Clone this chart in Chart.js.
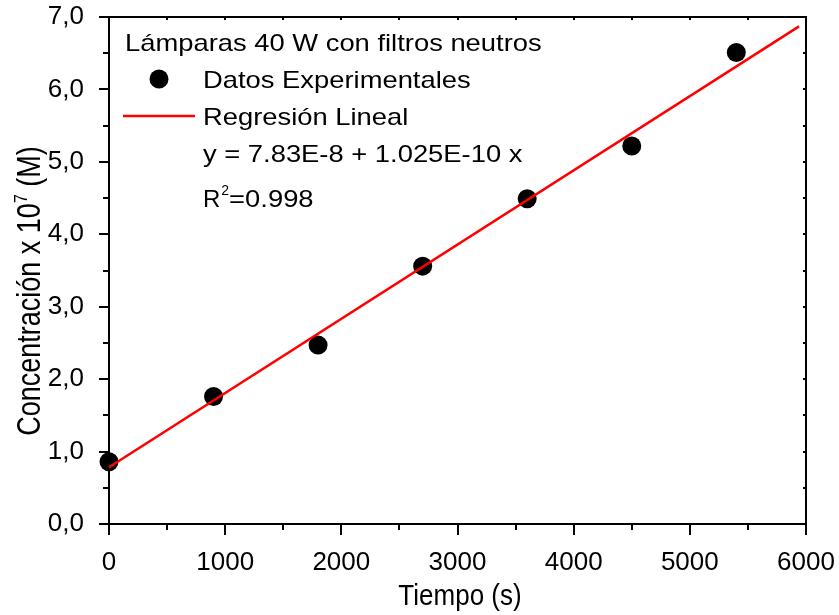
<!DOCTYPE html>
<html>
<head>
<meta charset="utf-8">
<title>Concentración vs Tiempo</title>
<script src="https://cdn.jsdelivr.net/npm/chart.js@4"></script>
<style>
  html, body { margin: 0; padding: 0; background: #fff; }
  canvas { display: block; }
</style>
</head>
<body>
<canvas id="chart" width="839" height="615"></canvas>
<script>
// values (concentration in units of 1e-7 M)
const timeValues = [0, 900, 1800, 2700, 3600, 4500, 5400];
const concentrationValues = [0.86, 1.76, 2.47, 3.56, 4.49, 5.22, 6.51];
const fitTime = [0, 5940];
const fitConcentration = [0.783, 6.87];
const xTicks = [0, 1000, 2000, 3000, 4000, 5000, 6000];
const yTicks = [0, 1, 2, 3, 4, 5, 6, 7];

const legendTitle = 'Lámparas 40 W con filtros neutros';
const pointsLabel = 'Datos Experimentales';
const fitLabel = 'Regresión Lineal';
const equationText = 'y = 7.83E-8 + 1.025E-10 x';
const rSquaredText = '=0.998';

const FONT = '"Liberation Sans", Arial, sans-serif';

function drawText(ctx, str, x, y, size, sx, sy) {
  ctx.save();
  ctx.translate(x, y);
  ctx.scale(sx || 1, sy || 1);
  ctx.font = `${size}px ${FONT}`;
  ctx.fillText(str, 0, 0);
  const w = ctx.measureText(str).width * (sx || 1);
  ctx.restore();
  return w;
}

// labels must not push the plot area around
function noLabelPadding(scale) {
  scale.paddingTop = 0;
  scale.paddingBottom = 0;
  scale.paddingLeft = 0;
  scale.paddingRight = 0;
}

const framePlugin = {
  id: 'frame',
  beforeDatasetsDraw(chart) {
    const { ctx, chartArea } = chart;
    const x = chart.scales.x;
    const y = chart.scales.y;
    ctx.save();
    ctx.strokeStyle = '#000';
    ctx.lineWidth = 2;
    ctx.strokeRect(chartArea.left, chartArea.top, chartArea.right - chartArea.left, chartArea.bottom - chartArea.top);

    ctx.beginPath();
    for (let v = x.min; v <= x.max; v += 500) {
      const px = Math.round(x.getPixelForValue(v));
      const len = v % 1000 === 0 ? 11 : 6;
      ctx.moveTo(px, chartArea.bottom);
      ctx.lineTo(px, chartArea.bottom + len);
      ctx.moveTo(px, chartArea.top);
      ctx.lineTo(px, chartArea.top + 3);
    }
    for (let v = y.min; v <= y.max; v += 0.5) {
      const py = Math.round(y.getPixelForValue(v));
      const len = v % 1 === 0 ? 10 : 6;
      ctx.moveTo(chartArea.left, py);
      ctx.lineTo(chartArea.left - len, py);
      ctx.moveTo(chartArea.right, py);
      ctx.lineTo(chartArea.right - 3, py);
    }
    ctx.stroke();
    ctx.restore();
  }
};

const textPlugin = {
  id: 'texts',
  afterDraw(chart) {
    const ctx = chart.ctx;
    const points = chart.data.datasets[1];
    const fit = chart.data.datasets[0];
    ctx.save();
    ctx.fillStyle = '#000';
    ctx.textBaseline = 'alphabetic';
    ctx.textAlign = 'left';

    // legend block
    drawText(ctx, legendTitle, 125, 51, 24, 1.14, 1);

    ctx.beginPath();
    ctx.fillStyle = points.backgroundColor;
    ctx.arc(159, 79, points.pointRadius, 0, Math.PI * 2);
    ctx.fill();
    ctx.fillStyle = '#000';
    drawText(ctx, pointsLabel, 203, 88, 24, 1.14, 1);

    ctx.beginPath();
    ctx.strokeStyle = fit.borderColor;
    ctx.lineWidth = fit.borderWidth;
    ctx.moveTo(123, 116);
    ctx.lineTo(195, 116);
    ctx.stroke();
    drawText(ctx, fitLabel, 203, 125, 24, 1.14, 1);

    drawText(ctx, equationText, 203, 162, 24, 1.14, 1);
    let rx = 203;
    rx += drawText(ctx, 'R', rx, 207, 24, 1.0, 1);
    rx += drawText(ctx, '2', rx + 1, 195, 14, 1.0, 1);
    drawText(ctx, rSquaredText, rx + 1, 207, 24, 1.14, 1);

    // x axis title
    ctx.textAlign = 'center';
    drawText(ctx, 'Tiempo (s)', 460, 605, 26, 1, 1.1);

    // y axis title, rotated, with superscript exponent
    ctx.textAlign = 'left';
    ctx.translate(40, 291);
    ctx.rotate(-Math.PI / 2);
    ctx.scale(1, 1.2);
    const partA = 'Concentración x 10';
    const partB = '7';
    const partC = ' (M)';
    ctx.font = `27px ${FONT}`;
    const wa = ctx.measureText(partA).width;
    const wc = ctx.measureText(partC).width;
    ctx.font = `16px ${FONT}`;
    const wb = ctx.measureText(partB).width;
    const start = -(wa + wb + wc) / 2;
    ctx.font = `27px ${FONT}`;
    ctx.fillText(partA, start, 0);
    ctx.font = `16px ${FONT}`;
    ctx.fillText(partB, start + wa, -11);
    ctx.font = `27px ${FONT}`;
    ctx.fillText(partC, start + wa + wb, 0);
    ctx.restore();
  }
};

new Chart(document.getElementById('chart'), {
  type: 'scatter',
  data: {
    datasets: [
      {
        label: fitLabel,
        data: fitTime.map((t, i) => ({ x: t, y: fitConcentration[i] })),
        showLine: true,
        borderColor: '#ff0000',
        borderWidth: 2.5,
        pointRadius: 0,
        fill: false,
        clip: false,
        order: 0
      },
      {
        label: pointsLabel,
        data: timeValues.map((t, i) => ({ x: t, y: concentrationValues[i] })),
        backgroundColor: '#000',
        borderWidth: 0,
        pointRadius: 9.5,
        pointHoverRadius: 9.5,
        clip: false,
        order: 1
      }
    ]
  },
  options: {
    responsive: false,
    animation: false,
    devicePixelRatio: 1,
    layout: {
      padding: { left: 0, right: 33, top: 17, bottom: 0 }
    },
    plugins: {
      legend: { display: false },
      tooltip: { enabled: false },
      title: { display: false }
    },
    scales: {
      x: {
        type: 'linear',
        position: 'bottom',
        min: 0,
        max: 6000,
        afterBuildTicks: scale => {
          scale.ticks = xTicks.map(v => ({ value: v }));
        },
        afterFit: scale => {
          scale.height = 91;
          noLabelPadding(scale);
        },
        grid: { display: false },
        border: { display: false },
        ticks: {
          color: '#000',
          padding: 15,
          maxRotation: 0,
          font: { family: FONT, size: 26 },
          callback: value => String(value)
        }
      },
      y: {
        type: 'linear',
        position: 'left',
        min: 0,
        max: 7,
        afterBuildTicks: scale => {
          scale.ticks = yTicks.map(v => ({ value: v }));
        },
        afterFit: scale => {
          scale.width = 109;
          noLabelPadding(scale);
        },
        grid: { display: false },
        border: { display: false },
        ticks: {
          color: '#000',
          padding: 17,
          font: { family: FONT, size: 26 },
          callback: value => value.toFixed(1).replace('.', ',')
        }
      }
    }
  },
  plugins: [framePlugin, textPlugin]
});
</script>
</body>
</html>
